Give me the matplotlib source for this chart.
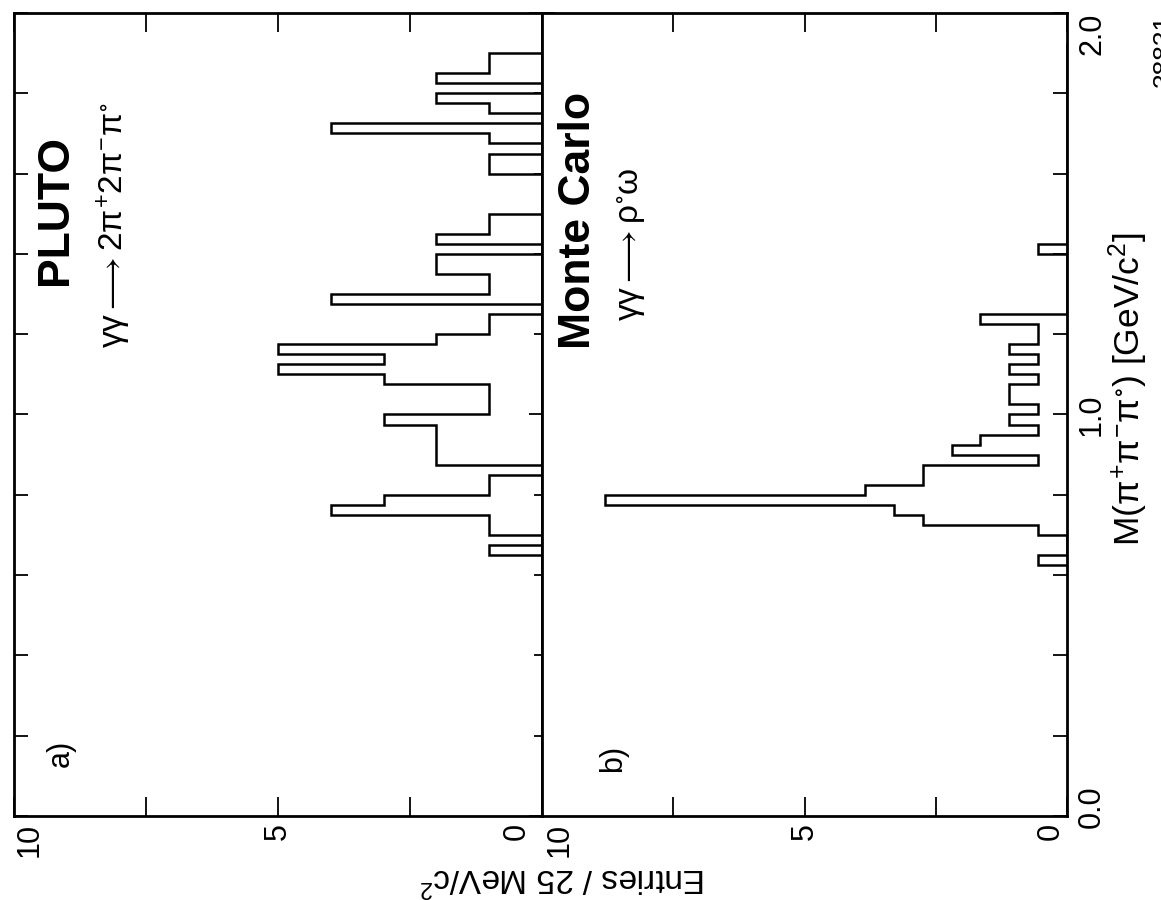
"""Two-panel 3-pion mass histogram (PLUTO data vs Monte Carlo), drawn rotated 90 deg as in the scan."""

import matplotlib

matplotlib.use("Agg")
import matplotlib.pyplot as plt
import numpy as np
from matplotlib import transforms

# 25 MeV bins, low edge 0.625 GeV, 52 bins
MASS_EDGES = np.linspace(0.625, 1.925, 53)

# a) PLUTO  gamma gamma -> 2pi+ 2pi- pi0
PLUTO_ENTRIES = [
    0, 1, 0, 1, 1, 4, 3, 1, 1, 0,
    2, 2, 2, 2, 3, 1, 1, 1, 3, 5,
    3, 5, 2, 1, 1, 0, 4, 1, 1, 2,
    2, 0, 2, 1, 1, 0, 0, 0, 0, 1,
    1, 0, 1, 4, 0, 1, 2, 0, 2, 1,
    1, 0,
]

# b) Monte Carlo  gamma gamma -> rho0 omega
MC_ENTRIES = [
    0.55, 0, 0, 0.55, 2.75, 3.3, 8.8, 3.85, 2.75, 2.75,
    0.55, 2.2, 1.65, 0.55, 1.1, 0.55, 1.1, 1.1, 0.55, 1.1,
    0.55, 1.1, 0.55, 0.55, 1.65, 0, 0, 0, 0, 0,
    0, 0.55, 0, 0, 0, 0, 0, 0, 0, 0,
    0, 0, 0, 0, 0, 0, 0, 0, 0, 0,
    0, 0,
]

ENTRY_MAJOR = [0, 5, 10]
ENTRY_MINOR = [2.5, 7.5]
MASS_MAJOR = [0.0, 1.0, 2.0]
MASS_MINOR = [0.2, 0.4, 0.6, 0.8, 1.2, 1.4, 1.6, 1.8]

W, H = 1161, 900

plt.rcParams["font.family"] = ["Liberation Sans", "DejaVu Sans"]
plt.rcParams["mathtext.fontset"] = "custom"
plt.rcParams["mathtext.rm"] = "Liberation Sans"
plt.rcParams["mathtext.it"] = "Liberation Sans"
plt.rcParams["mathtext.bf"] = "Liberation Sans:bold"
plt.rcParams["mathtext.sf"] = "Liberation Sans"
plt.rcParams["mathtext.fallback"] = "stixsans"


def box(x0, y0, x1, y1):
    """Pixel box (top-left origin) -> figure-fraction rect."""
    return [x0 / W, 1 - y1 / H, (x1 - x0) / W, (y1 - y0) / H]


def fpos(px, py):
    return px / W, 1 - py / H


fig = plt.figure(figsize=(W / 100, H / 100), dpi=100)
ax_a = fig.add_axes(box(14, 13, 542, 816))
ax_b = fig.add_axes(box(542, 13, 1067, 816))

for ax, vals in ((ax_a, PLUTO_ENTRIES), (ax_b, MC_ENTRIES)):
    ax.stairs(vals, MASS_EDGES, orientation="horizontal", baseline=0,
              color="black", linewidth=1.8)
    ax.set_xlim(10, 0)
    ax.set_ylim(0, 2.0)
    ax.set_xticks(ENTRY_MAJOR)
    ax.set_xticks(ENTRY_MINOR, minor=True)
    ax.set_yticks(MASS_MAJOR)
    ax.set_yticks(MASS_MINOR, minor=True)
    ax.tick_params(axis="x", which="both", direction="in", top=True, bottom=True,
                   length=13.5, width=1.3, labelbottom=False)
    ax.tick_params(axis="y", which="both", direction="in", length=10, width=1.3,
                   labelleft=False, labelright=False)
    for s in ax.spines.values():
        s.set_linewidth(2.0)

ax_a.tick_params(axis="y", which="both", left=True, right=False)
ax_b.tick_params(axis="y", which="both", left=False, right=True)

# ticks crossing the shared middle line
sec = ax_a.secondary_yaxis("right")
sec.set_yticks(MASS_MAJOR)
sec.set_yticks(MASS_MINOR, minor=True)
sec.tick_params(which="major", direction="inout", length=19, width=1.3, labelright=False)
sec.tick_params(which="minor", direction="inout", length=12, width=1.3, labelright=False)
sec.spines["right"].set_linewidth(2.0)

# entries tick labels (rotated, under the bottom edge)
entry_labels = {
    ax_a: [(10, "10", "left", 1), (5, "5", "center", 0), (0, "0", "right", -10)],
    ax_b: [(10, "10", "left", 3), (5, "5", "center", 0), (0, "0", "right", -1)],
}
for ax, items in entry_labels.items():
    tr = transforms.blended_transform_factory(ax.transData, ax.transAxes)
    for val, txt, ha, dx in items:
        t = transforms.offset_copy(tr, fig=fig, x=dx, y=-7, units="dots")
        ax.text(val, 0, txt, transform=t, rotation=90, ha=ha, va="top", fontsize=22)

# mass tick labels on the right edge
tr_m = transforms.blended_transform_factory(ax_b.transAxes, ax_b.transData)
for val, txt, va, dy in [(0.0, "0.0", "center", 9), (1.0, "1.0", "center", 0), (2.0, "2.0", "top", 0)]:
    t = transforms.offset_copy(tr_m, fig=fig, x=10, y=dy, units="dots")
    ax_b.text(1, val, txt, transform=t, rotation=90, ha="left", va=va, fontsize=22)

# panel annotations
fig.text(*fpos(55, 210), "PLUTO", rotation=90, ha="center", va="center",
         fontsize=32, fontweight="bold")
fig.text(*fpos(114, 225), r"$\gamma\gamma \longrightarrow 2\pi^{+}2\pi^{-}\pi^{\circ}$",
         rotation=90, ha="center", va="center", fontsize=24)
fig.text(*fpos(578, 220), "Monte Carlo", rotation=90, ha="center", va="center",
         fontsize=32, fontweight="bold")
fig.text(*fpos(632, 244), r"$\gamma\gamma \longrightarrow \rho^{\circ}\omega$",
         rotation=90, ha="center", va="center", fontsize=24)
fig.text(*fpos(61, 753), "a)", rotation=90, ha="center", va="center", fontsize=22)
fig.text(*fpos(613, 758), "b)", rotation=90, ha="center", va="center", fontsize=22)

# axis titles
fig.text(*fpos(1128, 389), r"M($\pi^{+}\pi^{-}\pi^{\circ}$) [GeV/c$^{2}$]",
         rotation=90, ha="center", va="center", fontsize=25.5)
fig.text(*fpos(563, 878), r"Entries / 25 MeV/c$^{2}$", rotation=180,
         ha="center", va="center", fontsize=24)
# figure number, cut by the right edge as in the scan
fig.text(*fpos(1152, 50), "38831", rotation=90, ha="left", va="center", fontsize=19)

fig.savefig("out.png", dpi=100)
